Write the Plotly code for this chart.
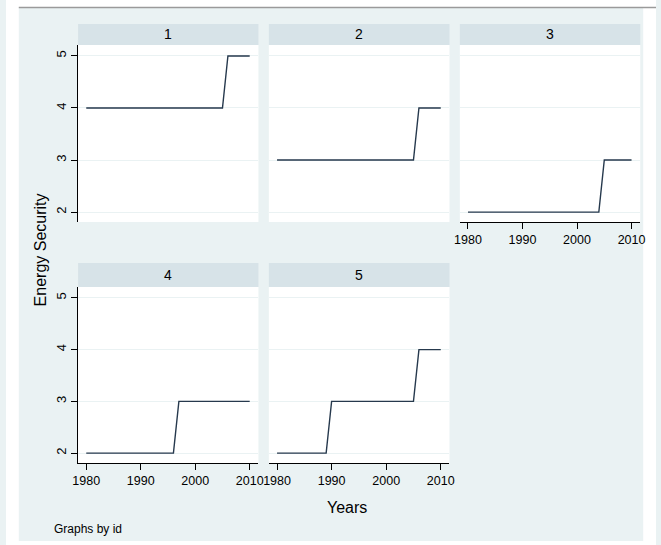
import plotly.graph_objects as go

W, H = 661, 545

years = list(range(1980, 2011))
panel_ids = ["1", "2", "3", "4", "5"]

energy_1 = [4, 4, 4, 4, 4, 4, 4, 4, 4, 4, 4, 4, 4, 4, 4, 4, 4, 4, 4, 4,
            4, 4, 4, 4, 4, 4, 5, 5, 5, 5, 5]
energy_2 = [3, 3, 3, 3, 3, 3, 3, 3, 3, 3, 3, 3, 3, 3, 3, 3, 3, 3, 3, 3,
            3, 3, 3, 3, 3, 3, 4, 4, 4, 4, 4]
energy_3 = [2, 2, 2, 2, 2, 2, 2, 2, 2, 2, 2, 2, 2, 2, 2, 2, 2, 2, 2, 2,
            2, 2, 2, 2, 2, 3, 3, 3, 3, 3, 3]
energy_4 = [2, 2, 2, 2, 2, 2, 2, 2, 2, 2, 2, 2, 2, 2, 2, 2, 2, 3, 3, 3,
            3, 3, 3, 3, 3, 3, 3, 3, 3, 3, 3]
energy_5 = [2, 2, 2, 2, 2, 2, 2, 2, 2, 2, 3, 3, 3, 3, 3, 3, 3, 3, 3, 3,
            3, 3, 3, 3, 3, 3, 4, 4, 4, 4, 4]
series = [energy_1, energy_2, energy_3, energy_4, energy_5]

x_ticks = [1980, 1990, 2000, 2010]
y_ticks = [2, 3, 4, 5]

FONT = "Liberation Sans, Arial, sans-serif"
BG = "#eaf2f3"
STRIP = "#d7e3e8"
LINE = "#26394d"


def fx(px):
    return px / W


def fy(py):
    return 1 - py / H


cols = [(73.3, 256.7), (267.3, 451.0), (461.5, 645.0)]
rows_plot = [(45, 222), (287, 463)]
rows_strip = [(24, 45), (263, 287)]
grid_pos = [(0, 0), (0, 1), (0, 2), (1, 0), (1, 1)]
show_x = [False, False, True, True, True]
show_y = [True, False, False, True, False]

fig = go.Figure()
layout = dict(
    width=W, height=H,
    margin=dict(l=0, r=0, t=0, b=0, pad=0),
    paper_bgcolor=BG, plot_bgcolor="white",
    showlegend=False,
    font=dict(family=FONT, size=12, color="#000000"),
)
shapes = []
annotations = []

for i, (pid, vals) in enumerate(zip(panel_ids, series)):
    r, c = grid_pos[i]
    n = i + 1
    xa = "x" if n == 1 else f"x{n}"
    ya = "y" if n == 1 else f"y{n}"
    fig.add_trace(go.Scatter(x=years, y=vals, mode="lines",
                             line=dict(color=LINE, width=1.4),
                             xaxis=xa, yaxis=ya, hoverinfo="skip"))
    x0, x1 = cols[c]
    y0, y1 = rows_plot[r]
    layout[f"xaxis{'' if n == 1 else n}"] = dict(
        domain=[fx(x0), fx(x1)], anchor=ya, range=[1978.5, 2011.6],
        showgrid=False, zeroline=False,
        showline=show_x[i], linecolor="#000000", linewidth=1,
        ticks="outside" if show_x[i] else "", ticklen=6, tickcolor="#000000",
        tickvals=x_ticks, showticklabels=show_x[i],
        tickfont=dict(family=FONT, size=12.5, color="#000000"),
    )
    layout[f"yaxis{'' if n == 1 else n}"] = dict(
        domain=[fy(y1), fy(y0)], anchor=xa, range=[1.81, 5.21],
        showgrid=True, gridcolor=BG, gridwidth=1, zeroline=False,
        showline=show_y[i], linecolor="#000000", linewidth=1,
        ticks="outside" if show_y[i] else "", ticklen=6, tickcolor="#000000",
        tickvals=y_ticks, showticklabels=show_y[i], tickangle=-90,
        tickfont=dict(family=FONT, size=13, color="#000000"),
    )
    sy0, sy1 = rows_strip[r]
    shapes.append(dict(type="rect", xref="paper", yref="paper",
                       x0=fx(x0), x1=fx(x1), y0=fy(sy1), y1=fy(sy0),
                       fillcolor=STRIP, line=dict(width=0), layer="below"))
    annotations.append(dict(text=pid, xref="paper", yref="paper",
                            x=fx((x0 + x1) / 2), y=fy((sy0 + sy1) / 2),
                            xanchor="center", yanchor="middle", showarrow=False,
                            font=dict(family=FONT, size=14, color="#000000")))

# white surround outside the graph region and top rule
for (a, b, cc, d) in [(0, 0, W, 7), (0, 0, 13, H), (648, 0, W, H), (0, 541, W, H)]:
    shapes.append(dict(type="rect", xref="paper", yref="paper",
                       x0=fx(a), x1=fx(cc), y0=fy(d), y1=fy(b),
                       fillcolor="white", line=dict(width=0), layer="below"))
shapes.append(dict(type="line", xref="paper", yref="paper",
                   x0=fx(13), x1=1, y0=fy(7.5), y1=fy(7.5),
                   line=dict(color="#9a9a9a", width=1.5)))

annotations.append(dict(text="Years", xref="paper", yref="paper",
                        x=fx(347), y=fy(507), xanchor="center", yanchor="middle",
                        showarrow=False, font=dict(family=FONT, size=16)))
annotations.append(dict(text="Energy Security", xref="paper", yref="paper",
                        x=fx(35), y=fy(250), xanchor="center", yanchor="middle",
                        textangle=-90, showarrow=False,
                        font=dict(family=FONT, size=16)))
annotations.append(dict(text="Graphs by id", xref="paper", yref="paper",
                        x=fx(47), y=fy(529), xanchor="left", yanchor="middle",
                        showarrow=False, font=dict(family=FONT, size=12)))

layout["shapes"] = shapes
layout["annotations"] = annotations
fig.update_layout(**layout)
fig.write_html("out.html",
               config={"displayModeBar": False, "staticPlot": True},
               post_script="document.body.style.margin='0';document.body.style.padding='0';")
